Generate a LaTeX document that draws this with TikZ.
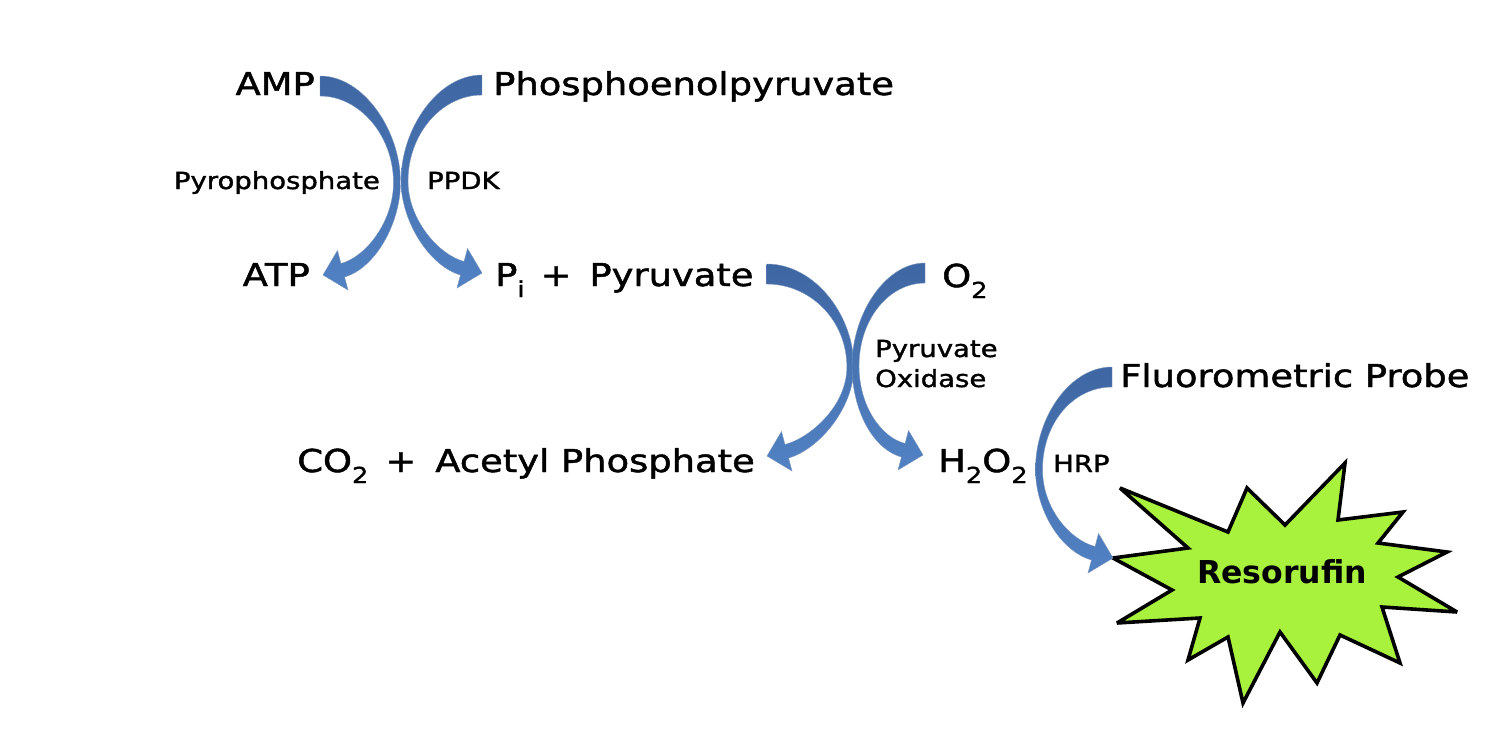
\documentclass[tikz,border=0pt]{standalone}
\usepackage{fontspec}
\setmainfont{DejaVu Sans}[FakeStretch=1.17, FakeBold=1.5]
\newfontfamily\burstfont{DejaVu Sans}
\usepackage{tikz}
\usetikzlibrary{calc}
\definecolor{bandtop}{RGB}{62,102,162}
\definecolor{bandbot}{RGB}{82,130,196}
\definecolor{burstgreen}{RGB}{168,242,62}
\newcommand\chemsub[1]{\raisebox{-11pt}{\fontsize{22}{22}\selectfont #1}}
\tikzset{band side/.store in=\bandside, band bulge/.store in=\bandbulge, band side=1, band bulge=80}
\tikzstyle{chem} = [inner sep=0pt, font=\fontsize{31.5}{36}\selectfont]
\tikzstyle{enzyme} = [inner sep=0pt, align=left, font=\fontsize{23.5}{30}\selectfont]
\tikzstyle{burst} = [draw=black, line width=3.6pt, miter limit=4, fill=burstgreen]
\tikzstyle{band} = [top color=bandtop, bottom color=bandbot, draw=bandtop!70!white, line width=0.4pt,
  to path={($(\tikztostart)+(0,-10)$)
    .. controls ($(\tikztostart)+(\bandside*0.55*\bandbulge,-10)$) and ($(\tikztostart)!0.5!(\tikztotarget)+(\bandside*\bandbulge,-50)$)
    .. ($(\tikztostart)!0.5!(\tikztotarget)+(\bandside*\bandbulge,2)$)
    .. controls ($(\tikztostart)!0.5!(\tikztotarget)+(\bandside*\bandbulge,42)$) and ($(\tikztotarget)+(\bandside*52.8,-7)$)
    .. ($(\tikztotarget)+(\bandside*21.5,2)$)
    -- ($(\tikztotarget)+(\bandside*25,15)$)
    -- (\tikztotarget)
    -- ($(\tikztotarget)+(\bandside*14.5,-24.5)$)
    -- ($(\tikztotarget)+(\bandside*17.9,-11.5)$)
    .. controls ($(\tikztotarget)+(\bandside*41.9,-17.5)$) and ($(\tikztostart)!0.5!(\tikztotarget)+({\bandside*(\bandbulge-7)},42)$)
    .. ($(\tikztostart)!0.5!(\tikztotarget)+({\bandside*(\bandbulge-7)},2)$)
    .. controls ($(\tikztostart)!0.5!(\tikztotarget)+({\bandside*(\bandbulge-7)},-45)$) and ($(\tikztostart)+(\bandside*0.5*\bandbulge,10)$)
    .. ($(\tikztostart)+(0,10)$) -- cycle}]

\begin{document}
\begin{tikzpicture}[x=1pt, y=-1pt]
	\fill[white] (0,0) rectangle (1502,750);
	\useasboundingbox (0,0) rectangle (1502,750);
	% first reaction
	\node (amp) [chem, anchor=base east] at (315,95) {AMP};
	\node (pep) [chem, anchor=base west] at (493,95) {Phosphoenolpyruvate};
	\node (ppi) [enzyme, anchor=base east] at (380,189) {Pyrophosphate};
	\node (ppdk) [enzyme, anchor=base west] at (427,189) {PPDK};
	\node (atp) [chem, anchor=base east] at (310,286) {ATP};
	\node (pyr) [chem, anchor=base west] at (495,286) {P\chemsub{i}\hspace{16pt}+\hspace{18pt}Pyruvate};
	% second reaction
	\node (o2) [chem, anchor=base west] at (942,287) {O\chemsub{2}};
	\node (pox) [enzyme, anchor=base west] at (875,387) {Pyruvate\\Oxidase};
	\node (acp) [chem, anchor=base east] at (755,472) {CO\chemsub{2}\hspace{17pt}+\hspace{19pt}Acetyl Phosphate};
	\node (h2o2) [chem, anchor=base west] at (938,472) {H\chemsub{2}O\chemsub{2}};
	% detection
	\node (probe) [chem, anchor=base west] at (1120,387) {Fluorometric Probe};
	\node (hrp) [enzyme, anchor=base west] at (1053,472) {HRP};
	\draw[burst] (1120,488) -- (1228,532) -- (1247,488) -- (1285,525) -- (1345,463) -- (1338,520)
		-- (1403,512) -- (1378,543) -- (1447,552) -- (1398,577) -- (1457,612) -- (1382,607)
		-- (1400,663) -- (1340,635) -- (1317,683) -- (1280,632) -- (1243,703) -- (1228,637)
		-- (1188,660) -- (1200,618) -- (1117,623) -- (1172,590) -- (1113,558) coordinate (burst-tip)
		-- (1188,548) -- cycle;
	\node (res) [chem] at (1282,572) {\burstfont\bfseries Resorufin};
	% arrow ends
	\coordinate (amp-out) at ($(amp.base east)+(5,-9)$);
	\coordinate (atp-in) at ($(atp.base east)+(13,-11)$);
	\coordinate (pep-out) at ($(pep.base west)+(-11,-10)$);
	\coordinate (pi-in) at ($(pyr.base west)+(-13,-13)$);
	\coordinate (pyr-out) at ($(pyr.base east)+(13,-12)$);
	\coordinate (acp-in) at ($(acp.base east)+(12,-16)$);
	\coordinate (o2-out) at ($(o2.base west)+(-17,-14)$);
	\coordinate (h2o2-in) at ($(h2o2.base west)+(-15,-17)$);
	\coordinate (probe-out) at ($(probe.base west)+(-8,-10)$);
	\path[band, band side=1, band bulge=79] (amp-out) to (atp-in);
	\path[band, band side=-1, band bulge=81] (pep-out) to (pi-in);
	\path[band, band side=1, band bulge=87] (pyr-out) to (acp-in);
	\path[band, band side=-1, band bulge=72] (o2-out) to (h2o2-in);
	\path[band, band side=-1, band bulge=77] (probe-out) to (burst-tip);
\end{tikzpicture}
\end{document}
